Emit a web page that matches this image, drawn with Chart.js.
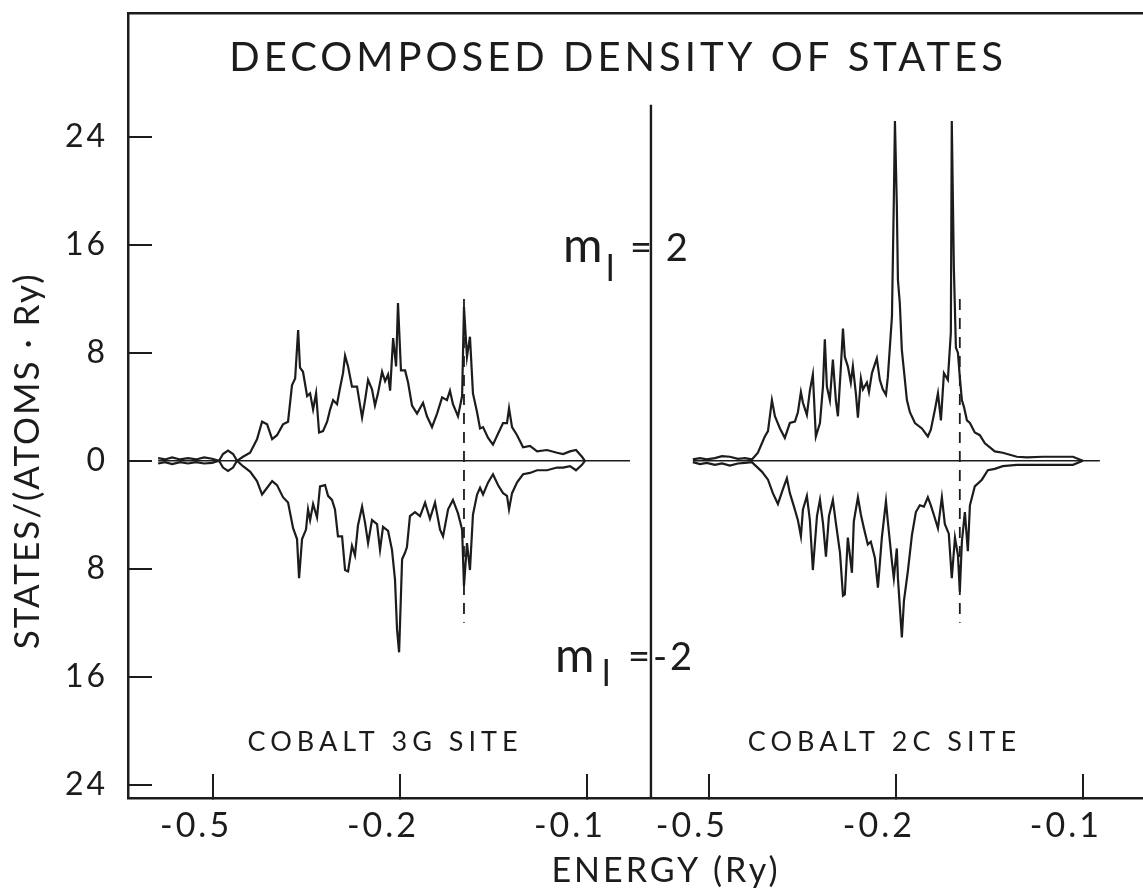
<!DOCTYPE html>
<html>
<head>
<meta charset="utf-8">
<title>Decomposed density of states</title>
<script src="https://cdn.jsdelivr.net/npm/chart.js@4.4.1/dist/chart.umd.min.js"></script>
<style>
  html, body { margin: 0; padding: 0; background: #fff; overflow: hidden; }
  #wrap { position: relative; width: 1204px; height: 892px; }
</style>
</head>
<body>
<div id="wrap"><canvas id="dos" width="1204" height="892"></canvas></div>
<script>
// energies in Ry, densities in states/(atom Ry); the m_l = -2 curves are plotted downward
const leftUpE = [
  -0.3294, -0.3257, -0.3219, -0.3176, -0.3134, -0.3091, -0.3048, -0.3005, -0.2968, -0.2947,
  -0.2920, -0.2893, -0.2872, -0.2840, -0.2802, -0.2765, -0.2738, -0.2711, -0.2684, -0.2658,
  -0.2626, -0.2599, -0.2578, -0.2561, -0.2545, -0.2535, -0.2519, -0.2497, -0.2481, -0.2465,
  -0.2449, -0.2433, -0.2412, -0.2390, -0.2374, -0.2358, -0.2337, -0.2321, -0.2305, -0.2294,
  -0.2278, -0.2257, -0.2230, -0.2203, -0.2187, -0.2171, -0.2150, -0.2134, -0.2118, -0.2096,
  -0.2080, -0.2064, -0.2053, -0.2037, -0.2021, -0.2011, -0.1995, -0.1973, -0.1957, -0.1936,
  -0.1909, -0.1877, -0.1856, -0.1829, -0.1802, -0.1775, -0.1749, -0.1733, -0.1717, -0.1690,
  -0.1668, -0.1658, -0.1642, -0.1626, -0.1610, -0.1588, -0.1572, -0.1556, -0.1529, -0.1503,
  -0.1476, -0.1449, -0.1428, -0.1417, -0.1401, -0.1374, -0.1342, -0.1305, -0.1267, -0.1214,
  -0.1160, -0.1128, -0.1091, -0.1059, -0.1027, -0.1011
]
const leftUpV = [
  0.2, 0.1, 0.25, 0.1, 0.2, 0.1, 0.25, 0.15, 0, 0.5,
  0.75, 0.5, 0, 0.3, 0.6, 1.6, 2.9, 2.7, 1.6, 1.9,
  2.7, 2.9, 5.6, 6.1, 9.7, 6.9, 6.6, 4.8, 5.0, 3.8,
  5.0, 2.1, 2.2, 2.9, 3.8, 4.5, 4.2, 5.4, 6.5, 7.8,
  7.0, 5.5, 5.5, 3.2, 4.5, 6.0, 5.3, 4.1, 5.0, 6.6,
  5.9, 6.4, 5.2, 9.1, 7.0, 11.7, 6.7, 6.7, 5.8, 4.1,
  3.5, 4.3, 3.3, 2.5, 3.5, 4.7, 4.5, 5.2, 4.2, 3.3,
  4.8, 11.4, 7.7, 9.2, 5.0, 3.6, 2.4, 2.5, 1.7, 1.2,
  2.0, 2.8, 2.8, 3.9, 2.5, 1.9, 1.0, 1.1, 0.7, 0.8,
  0.6, 0.5, 0.7, 0.8, 0.3, 0
]
const leftDownE = [
  -0.3294, -0.3257, -0.3219, -0.3176, -0.3134, -0.3091, -0.3048, -0.3005, -0.2968, -0.2947,
  -0.2920, -0.2893, -0.2872, -0.2840, -0.2802, -0.2765, -0.2738, -0.2722, -0.2684, -0.2658,
  -0.2626, -0.2599, -0.2572, -0.2551, -0.2540, -0.2524, -0.2503, -0.2492, -0.2481, -0.2465,
  -0.2444, -0.2428, -0.2401, -0.2385, -0.2364, -0.2348, -0.2332, -0.2310, -0.2294, -0.2278,
  -0.2257, -0.2241, -0.2225, -0.2203, -0.2187, -0.2171, -0.2150, -0.2123, -0.2107, -0.2091,
  -0.2064, -0.2043, -0.2027, -0.2016, -0.2005, -0.1989, -0.1973, -0.1963, -0.1947, -0.1920,
  -0.1893, -0.1866, -0.1840, -0.1813, -0.1786, -0.1770, -0.1743, -0.1717, -0.1690, -0.1668,
  -0.1658, -0.1642, -0.1626, -0.1610, -0.1588, -0.1572, -0.1556, -0.1529, -0.1503, -0.1476,
  -0.1449, -0.1428, -0.1417, -0.1401, -0.1374, -0.1342, -0.1305, -0.1267, -0.1214, -0.1160,
  -0.1128, -0.1091, -0.1059, -0.1027, -0.1011
]
const leftDownV = [
  -0.2, -0.1, -0.25, -0.1, -0.2, -0.1, -0.2, -0.15, 0, -0.5,
  -0.75, -0.5, 0, -0.4, -0.8, -1.5, -2.5, -2.2, -1.5, -1.8,
  -2.7, -3.1, -5.0, -5.8, -8.7, -5.8, -5.1, -3.6, -4.4, -3.2,
  -4.2, -1.9, -1.8, -2.6, -2.9, -3.6, -5.6, -5.6, -8.1, -8.2,
  -6.3, -7.0, -4.8, -3.4, -4.6, -6.1, -4.4, -4.7, -6.6, -4.9,
  -5.2, -6.6, -8.8, -12.5, -14.2, -7.3, -6.8, -6.4, -4.1, -3.8,
  -4.1, -3.1, -4.3, -3.1, -5.1, -5.6, -3.6, -2.9, -3.9, -5.1,
  -9.3, -6.1, -8.1, -4.0, -2.5, -2.0, -2.5, -1.6, -1.0, -1.8,
  -2.4, -2.6, -3.6, -2.4, -1.6, -1.0, -0.9, -0.7, -0.7, -0.5,
  -0.5, -0.4, -0.7, -0.3, 0
]
const rightUpE = [
  -0.3086, -0.3048, -0.3011, -0.2968, -0.2930, -0.2888, -0.2845, -0.2807, -0.2770, -0.2738,
  -0.2701, -0.2684, -0.2663, -0.2647, -0.2620, -0.2594, -0.2567, -0.2540, -0.2524, -0.2508,
  -0.2497, -0.2476, -0.2460, -0.2444, -0.2428, -0.2406, -0.2390, -0.2380, -0.2369, -0.2353,
  -0.2337, -0.2321, -0.2310, -0.2294, -0.2283, -0.2273, -0.2257, -0.2241, -0.2230, -0.2214,
  -0.2203, -0.2187, -0.2176, -0.2155, -0.2144, -0.2128, -0.2102, -0.2086, -0.2070, -0.2053,
  -0.2043, -0.2021, -0.2011, -0.2005, -0.1995, -0.1989, -0.1979, -0.1968, -0.1957, -0.1941,
  -0.1925, -0.1898, -0.1861, -0.1829, -0.1813, -0.1791, -0.1775, -0.1759, -0.1743, -0.1722,
  -0.1706, -0.1701, -0.1690, -0.1679, -0.1668, -0.1658, -0.1647, -0.1636, -0.1620, -0.1604,
  -0.1578, -0.1551, -0.1524, -0.1497, -0.1471, -0.1428, -0.1353, -0.1299, -0.1214, -0.1123,
  -0.1053, -0.1000
]
const rightUpV = [
  0.1, 0.2, 0.1, 0.2, 0.35, 0.3, 0.15, 0.2, 0.1, 0.6,
  1.8, 2.2, 4.5, 3.3, 2.4, 1.7, 2.8, 2.9, 3.6, 5.1,
  4.3, 3.4, 5.2, 6.4, 1.8, 2.8, 5.5, 9.0, 5.5, 4.5,
  7.5, 4.5, 3.3, 7.0, 9.8, 7.7, 7.0, 5.8, 7.0, 5.0,
  3.2, 6.1, 5.3, 5.8, 5.1, 6.5, 7.6, 6.0, 5.3, 4.9,
  6.2, 10.7, 19.3, 25.2, 19.0, 13.4, 11.7, 8.2, 6.7, 4.5,
  3.6, 2.8, 2.4, 1.8, 2.3, 3.8, 5.0, 3.0, 6.5, 6.0,
  9.5, 25.2, 14.4, 8.4, 8.0, 6.2, 4.5, 4.0, 3.0, 2.8,
  2.1, 1.9, 1.3, 1.0, 0.7, 0.6, 0.3, 0.25, 0.3, 0.3,
  0.3, 0
]
const rightDownE = [
  -0.3086, -0.3048, -0.3011, -0.2968, -0.2930, -0.2888, -0.2845, -0.2807, -0.2770, -0.2717,
  -0.2684, -0.2658, -0.2631, -0.2604, -0.2583, -0.2567, -0.2545, -0.2524, -0.2508, -0.2497,
  -0.2476, -0.2460, -0.2444, -0.2422, -0.2406, -0.2390, -0.2374, -0.2358, -0.2337, -0.2321,
  -0.2299, -0.2283, -0.2273, -0.2257, -0.2235, -0.2225, -0.2203, -0.2187, -0.2171, -0.2150,
  -0.2134, -0.2112, -0.2096, -0.2075, -0.2053, -0.2043, -0.2021, -0.2011, -0.1995, -0.1989,
  -0.1968, -0.1957, -0.1936, -0.1914, -0.1893, -0.1872, -0.1850, -0.1829, -0.1813, -0.1797,
  -0.1775, -0.1754, -0.1738, -0.1717, -0.1701, -0.1684, -0.1668, -0.1658, -0.1647, -0.1631,
  -0.1615, -0.1604, -0.1578, -0.1540, -0.1508, -0.1471, -0.1428, -0.1353, -0.1214, -0.1053,
  -0.1000
]
const rightDownV = [
  -0.1, -0.25, -0.15, -0.3, -0.2, -0.35, -0.2, -0.15, -0.1, -0.8,
  -1.4, -2.4, -3.2, -2.1, -1.3, -2.4, -3.4, -4.4, -5.6, -3.6,
  -2.6, -4.4, -8.1, -4.1, -2.9, -4.6, -7.1, -4.1, -2.9, -4.6,
  -6.8, -10.0, -9.9, -5.7, -8.3, -4.5, -2.7, -4.0, -5.0, -6.2,
  -6.0, -7.2, -9.4, -5.7, -3.0, -4.5, -7.5, -8.7, -6.5, -8.7,
  -13.1, -10.4, -8.2, -5.5, -3.8, -3.3, -3.4, -2.7, -3.3, -4.0,
  -5.0, -2.7, -4.7, -5.4, -8.7, -5.7, -7.0, -9.7, -6.0, -3.8,
  -6.7, -3.3, -1.9, -1.4, -0.7, -0.6, -0.4, -0.3, -0.3, -0.3,
  0
]

// zero lines, Fermi level and panel divider
const leftZeroE = [-0.3294, -0.0770]
const rightZeroE = [-0.3086, -0.0909]
const fermiE = -0.1658
const fermiSpan = [12, -12]
const dividerE = -0.0658
const dividerSpan = [26.4, -25]

// axes
const xTickE = [-0.3, -0.2, -0.1]
const xTickLabels = ["-0.5", "-0.2", "-0.1"]
const yTicks = [-24, -16, -8, 0, 8, 16, 24]
const PANEL_SHIFT = 0.2652   // right panel is drawn after the left one on the same axis
const X_MIN = -0.3455
const X_MAX = 0.2300
const Y_MIN = -25
const Y_MAX = 33.2

const INK = "#1c1c1c"
const FONT = "Lato, 'DejaVu Sans', sans-serif"

const pts = (es, vs, shift) => es.map((e, i) => ({ x: e + shift, y: vs[i] }))
const flat = (es, shift) => es.map((e) => ({ x: e + shift, y: 0 }))
const vline = (e, span) => span.map((v) => ({ x: e, y: v }))

const line = (data, extra) => Object.assign({
  data: data,
  borderColor: INK,
  borderWidth: 2.2,
  pointRadius: 0,
  tension: 0,
  fill: false,
}, extra || {})

// texts placed inside the plot, in axis units
const notes = [
  { text: "DECOMPOSED DENSITY OF STATES", x: -0.0834, y: 28.9, size: 40, spacing: 4, align: "center" },
  { text: "m", x: -0.1128, y: 14.74, size: 48, spacing: 0, align: "left" },
  { text: "l", x: -0.0898, y: 13.33, size: 36, spacing: 0, align: "left" },
  { text: "= 2", x: -0.0770, y: 14.81, size: 38, spacing: 2, align: "left" },
  { text: "m", x: -0.1171, y: -15.66, size: 48, spacing: 0, align: "left" },
  { text: "l", x: -0.0920, y: -16.70, size: 36, spacing: 0, align: "left" },
  { text: "=-2", x: -0.0781, y: -15.51, size: 38, spacing: 3, align: "left" },
  { text: "COBALT 3G SITE", x: -0.2080, y: -21.52, size: 27, spacing: 5, align: "center" },
  { text: "COBALT 2C SITE", x: 0.0591, y: -21.52, size: 27, spacing: 5, align: "center" },
]

const paperText = {
  id: "paperText",
  beforeDraw(chart) {
    chart.ctx.letterSpacing = "3px"
  },
  afterDraw(chart) {
    const { ctx, chartArea } = chart
    const x = chart.scales.x
    const y = chart.scales.y
    ctx.save()
    ctx.fillStyle = INK
    ctx.textBaseline = "alphabetic"
    notes.forEach((t) => {
      ctx.font = t.size + "px " + FONT
      ctx.letterSpacing = t.spacing + "px"
      ctx.textAlign = t.align
      ctx.fillText(t.text, x.getPixelForValue(t.x), y.getPixelForValue(t.y))
    })
    // y axis title
    ctx.translate(chartArea.left - 100, y.getPixelForValue(0))
    ctx.rotate(-Math.PI / 2)
    ctx.textAlign = "center"
    ctx.textBaseline = "middle"
    ctx.font = "35px " + FONT
    ctx.letterSpacing = "2px"
    ctx.fillText("STATES/(ATOMS · Ry)", 0, 0)
    ctx.restore()
  },
}

const ctx = document.getElementById("dos").getContext("2d")
const chart = new Chart(ctx, {
  type: "line",
  data: {
    datasets: [
      line(pts(leftUpE, leftUpV, 0)),
      line(pts(leftDownE, leftDownV, 0)),
      line(pts(rightUpE, rightUpV, PANEL_SHIFT)),
      line(pts(rightDownE, rightDownV, PANEL_SHIFT)),
      line(flat(leftZeroE, 0), { borderWidth: 1.4 }),
      line(flat(rightZeroE, PANEL_SHIFT), { borderWidth: 1.4 }),
      line(vline(fermiE, fermiSpan), { borderWidth: 1.8, borderDash: [11, 8] }),
      line(vline(fermiE + PANEL_SHIFT, fermiSpan), { borderWidth: 1.8, borderDash: [11, 8] }),
      line(vline(dividerE, dividerSpan), { borderWidth: 2.4 }),
    ],
  },
  options: {
    responsive: false,
    animation: false,
    layout: { padding: 0 },
    plugins: {
      legend: { display: false },
      tooltip: { enabled: false },
    },
    scales: {
      x: {
        type: "linear",
        position: "bottom",
        min: X_MIN,
        max: X_MAX,
        afterBuildTicks: (scale) => {
          scale.ticks = xTickE.map((v) => ({ value: v }))
            .concat(xTickE.map((v) => ({ value: v + PANEL_SHIFT })))
        },
        afterFit: (scale) => {
          scale.height = 94
          scale.paddingLeft = 0
          scale.paddingRight = 0
        },
        ticks: {
          autoSkip: false,
          maxRotation: 0,
          padding: 32,
          labelOffset: -17,
          color: INK,
          font: { family: FONT, size: 34 },
          callback: (value, index) => xTickLabels[index % xTickLabels.length],
        },
        grid: {
          drawOnChartArea: false,
          drawTicks: true,
          tickLength: -24,
          color: INK,
          lineWidth: 2,
        },
        border: { display: true, color: INK, width: 2.5 },
        title: {
          display: true,
          text: "ENERGY (Ry)",
          color: INK,
          font: { family: FONT, size: 34 },
          padding: { top: 0, bottom: 1 },
        },
      },
      top: {
        type: "linear",
        position: "top",
        display: true,
        afterFit: (scale) => {
          scale.height = 13
          scale.paddingLeft = 0
          scale.paddingRight = 0
        },
        ticks: { display: false },
        grid: { display: false },
        border: { display: true, color: INK, width: 2.5 },
      },
      y: {
        type: "linear",
        position: "left",
        min: Y_MIN,
        max: Y_MAX,
        afterBuildTicks: (scale) => {
          scale.ticks = yTicks.map((v) => ({ value: v }))
        },
        afterFit: (scale) => {
          scale.width = 128
          scale.paddingTop = 0
          scale.paddingBottom = 0
        },
        ticks: {
          autoSkip: false,
          padding: 44,
          color: INK,
          font: { family: FONT, size: 32 },
          callback: (value) => String(Math.abs(value)),
        },
        grid: {
          drawOnChartArea: false,
          drawTicks: true,
          tickLength: -24,
          color: INK,
          lineWidth: 2,
        },
        border: { display: true, color: INK, width: 2.5 },
      },
    },
  },
  plugins: [paperText],
})
</script>
</body>
</html>
